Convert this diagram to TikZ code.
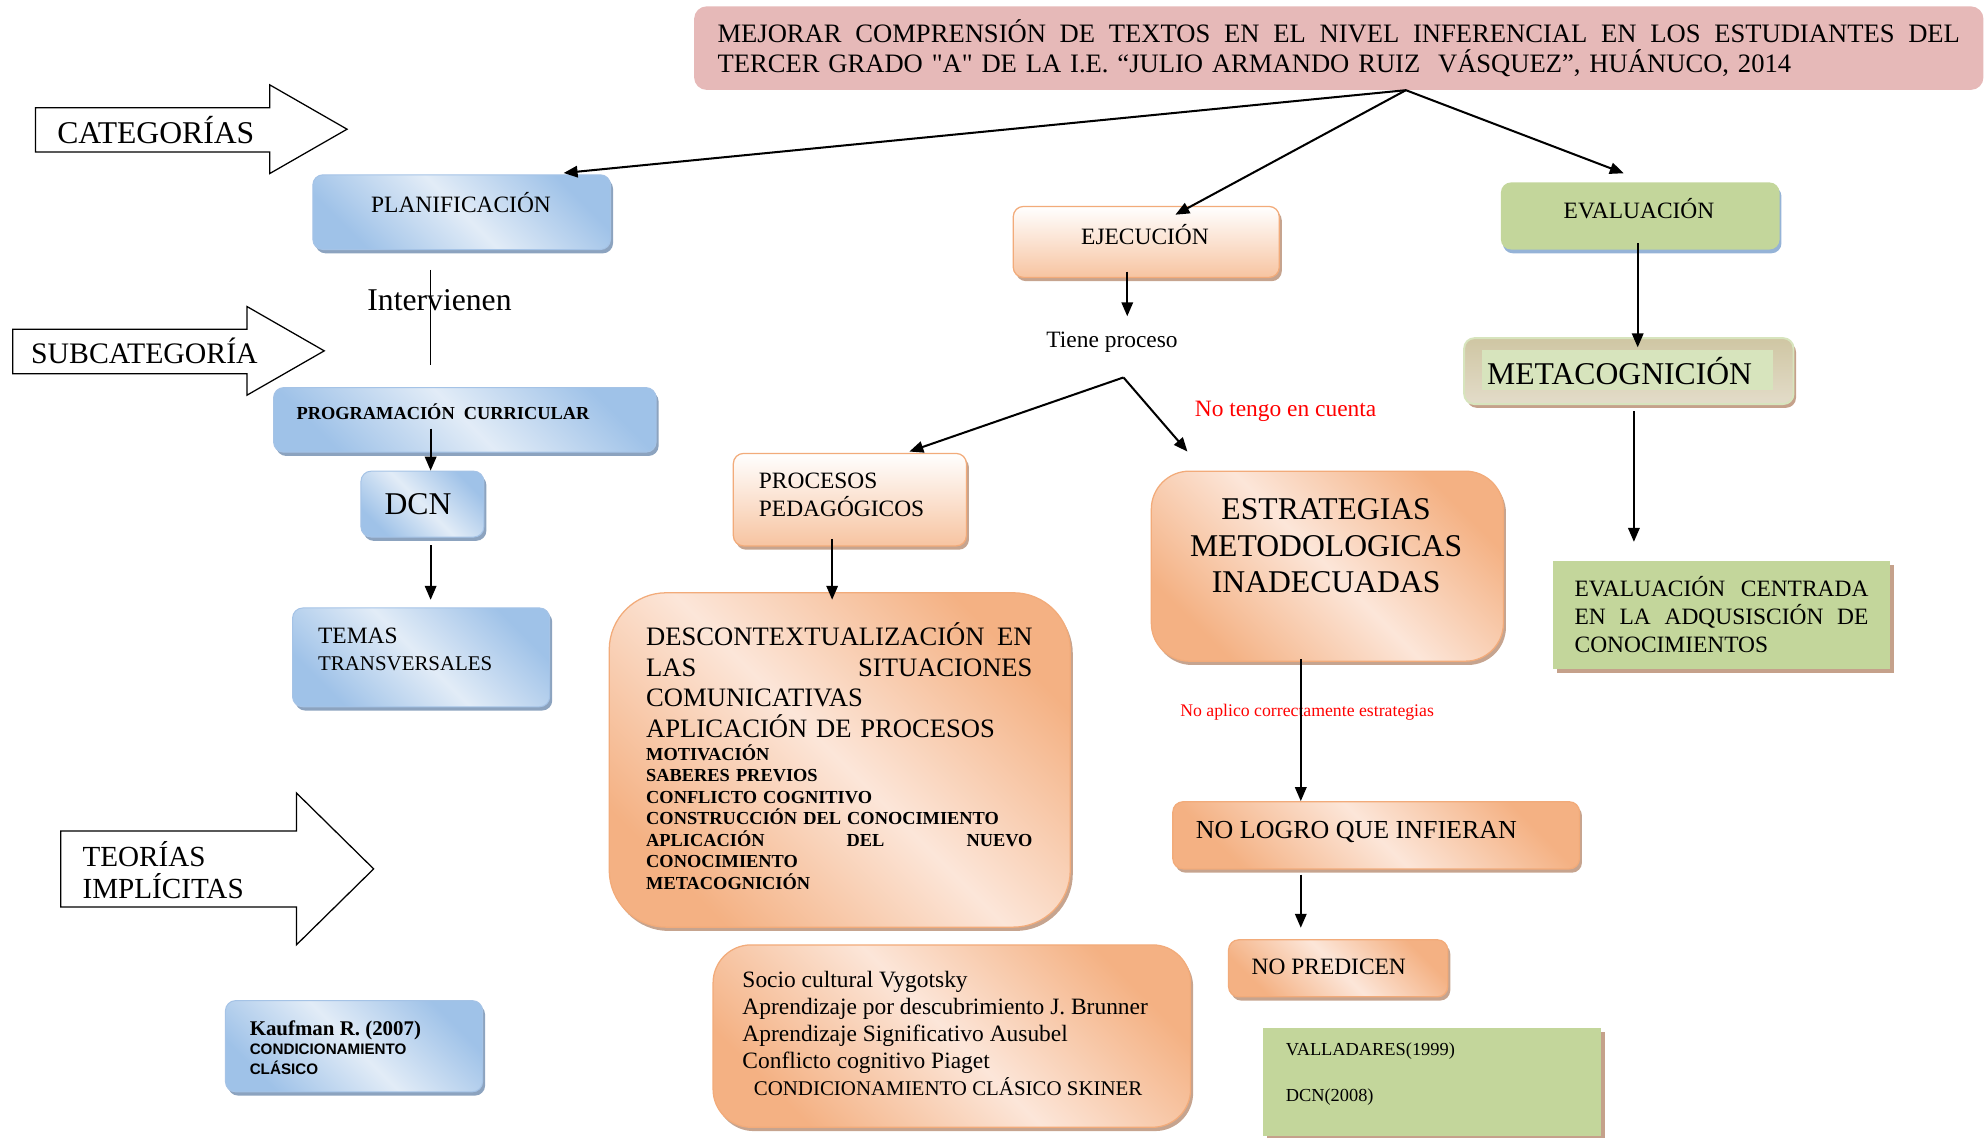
\documentclass[tikz,border=0pt]{standalone}
\usepackage{fontspec}
\setmainfont{Liberation Serif}[Ligatures=TeXOff]
\newfontfamily\arialf{Liberation Sans}
\usetikzlibrary{arrows.meta,shadows,calc}
\newcommand\myfs[2]{\fontsize{#1}{#2}\selectfont}
\newcommand\jline[2]{\makebox[#1][s]{\spaceskip=0pt\xspaceskip=0pt #2}}
\definecolor{pinkT}{HTML}{E6B9B8}
\definecolor{blueL}{HTML}{E2ECF7}
\definecolor{blueD}{HTML}{9FC2E8}
\definecolor{blueB}{HTML}{A5C3E6}
\definecolor{blueS}{HTML}{8CA3BF}
\definecolor{orD}{HTML}{F4B183}
\definecolor{orL}{HTML}{FCE6D9}
\definecolor{orV}{HTML}{F7C4A1}
\definecolor{orB}{HTML}{F2AB7A}
\definecolor{orS}{HTML}{C6A48F}
\definecolor{greenM}{HTML}{C3D69B}
\definecolor{greenL}{HTML}{D7E4BD}
\definecolor{metaT}{HTML}{CFC6A3}
\definecolor{metaB}{HTML}{E3DCC9}
\definecolor{brS}{HTML}{C5A18B}
\definecolor{evS}{HTML}{95B3D7}
\tikzset{
  txt/.style={inner sep=0pt},
  bluebox/.style={rounded corners=8pt, draw=blueB, line width=0.8pt, inner sep=0pt,
    top color=blueD, bottom color=blueD, middle color=blueL, shading angle=-45,
    drop shadow={shadow xshift=2pt, shadow yshift=-3pt, fill=blueS, opacity=1}},
  orbox/.style={rounded corners=8pt, draw=orB, line width=1pt, inner sep=0pt,
    top color=orD, bottom color=orD, middle color=orL, shading angle=-45,
    drop shadow={shadow xshift=2pt, shadow yshift=-3pt, fill=orS, opacity=1}},
  orboxv/.style={rounded corners=8pt, draw=orB, line width=1pt, inner sep=0pt,
    top color=white, bottom color=orV,
    drop shadow={shadow xshift=2pt, shadow yshift=-3pt, fill=orS, opacity=1}},
  greenbox/.style={rounded corners=8pt, fill=greenM, inner sep=0pt,
    drop shadow={shadow xshift=1.5pt, shadow yshift=-3pt, fill=evS, opacity=1}},
  greenrect/.style={fill=greenM, inner sep=0pt,
    drop shadow={shadow xshift=3pt, shadow yshift=-3pt, fill=brS, opacity=1}},
  metabox/.style={rounded corners=8pt, draw=greenL, line width=1.5pt, inner sep=0pt,
    top color=metaT, bottom color=metaB,
    drop shadow={shadow xshift=2pt, shadow yshift=-3pt, fill=brS, opacity=1}},
  bigarrow/.style={draw=black, line width=1pt, fill=white, line join=miter},
  arr/.style={-{Triangle[length=11pt,width=9pt]}, line width=1.6pt}
}
\begin{document}
\begin{tikzpicture}[x=1pt,y=-1pt]
\useasboundingbox (0,0) rectangle (1568,898);

% title
\node[rounded corners=10pt, fill=pinkT, inner xsep=18.5pt, inner ysep=0pt,
  minimum width=1018pt, minimum height=66pt, text width=981pt, align=left,
  font=\myfs{21}{24}] (title) at (1057,38)
  {\jline{981pt}{MEJORAR COMPRENSIÓN DE TEXTOS EN EL NIVEL INFERENCIAL EN LOS ESTUDIANTES DEL}\\TERCER GRADO "A" DE LA I.E. “JULIO ARMANDO RUIZ\ \ VÁSQUEZ”, HUÁNUCO, 2014};

% big outline arrows
\draw[bigarrow] (28,85) -- (213,85) -- (213,67) -- (274,102) -- (213,137) -- (213,120) -- (28,120) -- cycle;
\node[txt, font=\myfs{25}{27}] (catT) at (123,103) {CATEGORÍAS};
\draw[bigarrow] (10,260) -- (195,260) -- (195,242) -- (256,277) -- (195,312) -- (195,295) -- (10,295) -- cycle;
\node[txt, font=\myfs{23.5}{26}] (subT) at (114,277) {SUBCATEGORÍA};
\draw[bigarrow] (48,656) -- (234,656) -- (234,626) -- (295,686) -- (234,746) -- (234,716) -- (48,716) -- cycle;
\node[txt, anchor=west, align=left, font=\myfs{23}{26}] (teoT) at (65,687) {TEORÍAS\\IMPLÍCITAS};

% left column
\node[bluebox, minimum width=235pt, minimum height=59pt] (plan) at (364.5,167.5) {};
\node[txt, font=\myfs{18.5}{22}] (planT) at (364,160) {PLANIFICACIÓN};
\node[txt, font=\myfs{25}{28}] (interv) at (347,237) {Intervienen};
\coordinate (iv1) at (340,213);
\coordinate (iv2) at (340,288);
\draw[line width=1pt] (iv1) -- (iv2);
\node[bluebox, minimum width=302pt, minimum height=51pt] (prog) at (367,331.5) {};
\node[txt, anchor=west, font=\myfs{14.5}{16}\bfseries] (progT) at (234,325) {PROGRAMACIÓN\ \ CURRICULAR};
\node[bluebox, minimum width=97pt, minimum height=52pt] (dcn) at (333.5,398) {};
\node[txt, font=\myfs{25}{28}] (dcnT) at (330,398) {DCN};
\node[bluebox, minimum width=203pt, minimum height=78pt] (temas) at (332.5,519) {};
\node[txt, anchor=west, align=left, font=\myfs{16.5}{21}] (temasT) at (251,512.5) {{\myfs{18.5}{21}TEMAS}\\TRANSVERSALES};
\node[bluebox, minimum width=203pt, minimum height=72pt] (kauf) at (279.5,826) {};
\node[txt, anchor=west, align=left, font=\myfs{12}{15.5}] (kaufT) at (197,827)
  {{\bfseries\myfs{16.5}{15.5}Kaufman R. (2007)}\\{\arialf\bfseries CONDICIONAMIENTO}\\{\arialf\bfseries CLÁSICO}};

% middle column
\node[orboxv, minimum width=210pt, minimum height=56pt] (ejec) at (905,191) {};
\node[txt, font=\myfs{18.5}{22}] (ejecT) at (904,185) {EJECUCIÓN};
\node[txt, font=\myfs{18.5}{22}] (tiene) at (878,270) {Tiene proceso};
\coordinate (fork) at (887,298);
\node[txt, text=red, font=\myfs{18.5}{22}] (notengo) at (1015,325) {No tengo en cuenta};
\node[orboxv, minimum width=184pt, minimum height=73pt] (proc) at (671,394.5) {};
\node[txt, anchor=west, align=left, font=\myfs{18.5}{22}] (procT) at (599,391) {PROCESOS\\PEDAGÓGICOS};
\node[orbox, rounded corners=45pt, minimum width=364pt, minimum height=264pt] (desc) at (663,600) {};
\node[txt, anchor=west, align=left, text width=305pt, font=\myfs{21}{24}] (descA) at (510,537)
  {\jline{305pt}{DESCONTEXTUALIZACIÓN EN}\\\jline{305pt}{LAS SITUACIONES}\\COMUNICATIVAS\\APLICACIÓN DE PROCESOS};
\node[txt, anchor=west, align=left, text width=305pt, font=\myfs{14.5}{17}\bfseries] (descB) at (510,645)
  {MOTIVACIÓN\\SABERES PREVIOS\\CONFLICTO COGNITIVO\\CONSTRUCCIÓN DEL CONOCIMIENTO\\\jline{305pt}{APLICACIÓN DEL NUEVO}\\CONOCIMIENTO\\METACOGNICIÓN};
\node[orbox, rounded corners=30pt, minimum width=377pt, minimum height=144pt] (teorias) at (751.5,818) {};
\node[txt, anchor=west, align=left, font=\myfs{18.5}{21.3}] (teoriasT) at (586,816)
  {Socio cultural Vygotsky\\Aprendizaje por descubrimiento J. Brunner\\Aprendizaje Significativo Ausubel\\Conflicto cognitivo Piaget\\\hspace*{9pt}{\myfs{16.5}{21.3}CONDICIONAMIENTO CLÁSICO SKINER}};

% right-middle column
\node[orbox, rounded corners=30pt, minimum width=278pt, minimum height=150pt] (estr) at (1048,447) {};
\node[txt, align=center, font=\myfs{25}{29}] (estrT) at (1047,431) {ESTRATEGIAS\\METODOLOGICAS\\INADECUADAS};
\node[txt, text=red, font=\myfs{14}{16}] (noaplico) at (1032,562) {No aplico correctamente estrategias};
\node[orbox, minimum width=321pt, minimum height=53pt] (nologro) at (1086.5,659.5) {};
\node[txt, anchor=west, font=\myfs{20.5}{24}] (nologroT) at (944,657) {NO LOGRO QUE INFIERAN};
\node[orbox, minimum width=173pt, minimum height=45pt] (nopred) at (1056.5,764.5) {};
\node[txt, anchor=west, font=\myfs{18.5}{22}] (nopredT) at (988,763) {NO PREDICEN};
\node[greenrect, minimum width=267pt, minimum height=85pt] (vall) at (1130.5,854.5) {};
\node[txt, anchor=west, align=left, font=\myfs{14.5}{36}] (vallT) at (1015,848) {VALLADARES(1999)\\DCN(2008)};

% right column
\node[greenbox, minimum width=220pt, minimum height=53pt] (eval) at (1295,170.5) {};
\node[txt, font=\myfs{18.5}{22}] (evalT) at (1294,165) {EVALUACIÓN};
\node[metabox, minimum width=260pt, minimum height=52pt] (meta) at (1286,293) {};
\node[fill=greenL, inner sep=0pt, minimum width=230pt, minimum height=32pt] (metaIn) at (1285,292) {};
\node[txt, anchor=west, font=\myfs{25}{28}] (metaT) at (1174,293) {METACOGNICIÓN};
\node[greenrect, minimum width=266pt, minimum height=85pt] (evcent) at (1359,485.5) {};
\node[txt, anchor=west, align=left, text width=232pt, font=\myfs{18.5}{22}] (evcentT) at (1243,485)
  {\jline{232pt}{EVALUACIÓN CENTRADA}\\\jline{232pt}{EN LA ADQUSISCIÓN DE}\\CONOCIMIENTOS};

% connectors
\coordinate (tb) at ($(title.south)+(53,0)$);
\draw[arr] (tb) -- ($(plan.north)+(80.5,-1)$);
\draw[arr] (tb) -- ($(ejec.north)+(23,7)$);
\draw[arr] (tb) -- ($(eval.north)+(-13,-7)$);
\draw[arr] ($(prog.south)+(-27,-19)$) -- ($(dcn.north)+(6.5,0)$);
\draw[arr] ($(dcn.south)+(6.5,6)$) -- ($(temas.north)+(7.5,-6)$);
\draw[arr] ($(ejec.south)+(-15,-5)$) -- ($(tiene.north)+(12,-12)$);
\draw[arr] (fork) -- ($(proc.north)+(47,-1)$);
\draw[arr] (fork) -- ($(estr.north west)+(29,-15)$);
\draw[arr] ($(proc.south)+(-14,-6)$) -- ($(desc.north)+(-6,6)$);
\draw[arr] ($(estr.south)+(-21,-2)$) -- ($(nologro.north)+(-59.5,0)$);
\draw[arr] ($(nologro.south)+(-59.5,4)$) -- ($(nopred.north)+(-29.5,-9)$);
\draw[arr] ($(eval.south)+(-2,-5)$) -- ($(meta.north)+(7,8)$);
\draw[arr] ($(meta.south)+(4,5)$) -- ($(evcent.north)+(-69,-15)$);
\end{tikzpicture}
\end{document}
